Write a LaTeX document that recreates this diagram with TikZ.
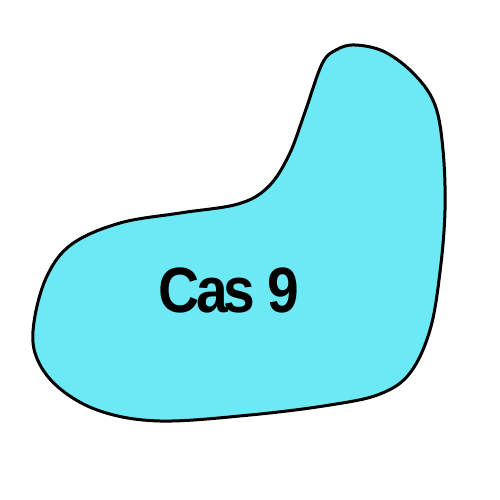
\documentclass[tikz,border=0pt]{standalone}
\usepackage{fontspec}
\setmainfont{Liberation Sans}
\definecolor{blobcyan}{RGB}{108,233,244}
\begin{document}
\begin{tikzpicture}[x=1pt,y=-1pt,
  blob/.style={draw=black,line width=3pt,fill=blobcyan},
  label/.style={font=\bfseries\fontsize{64}{64}\selectfont\addfontfeature{LetterSpace=-7},inner sep=0pt}]
\useasboundingbox (0,0) rectangle (500,500);
\draw[blob] plot[smooth cycle,tension=0.6] coordinates {
 (322,64) (336,50) (355,45) (385,52) (415,75) (435,105) (443,150) (445,210)
 (440,272) (430,330) (410,373) (380,394) (330,405) (250,415) (160,421)
 (100,411) (58,387) (36,356) (34,322) (47,276) (72,244) (120,223) (180,213)
 (238,204) (268,187) (289,155) (305,112)};
\node[label,xscale=0.89] (cas) at (229,290) {Cas 9};
\end{tikzpicture}
\end{document}
